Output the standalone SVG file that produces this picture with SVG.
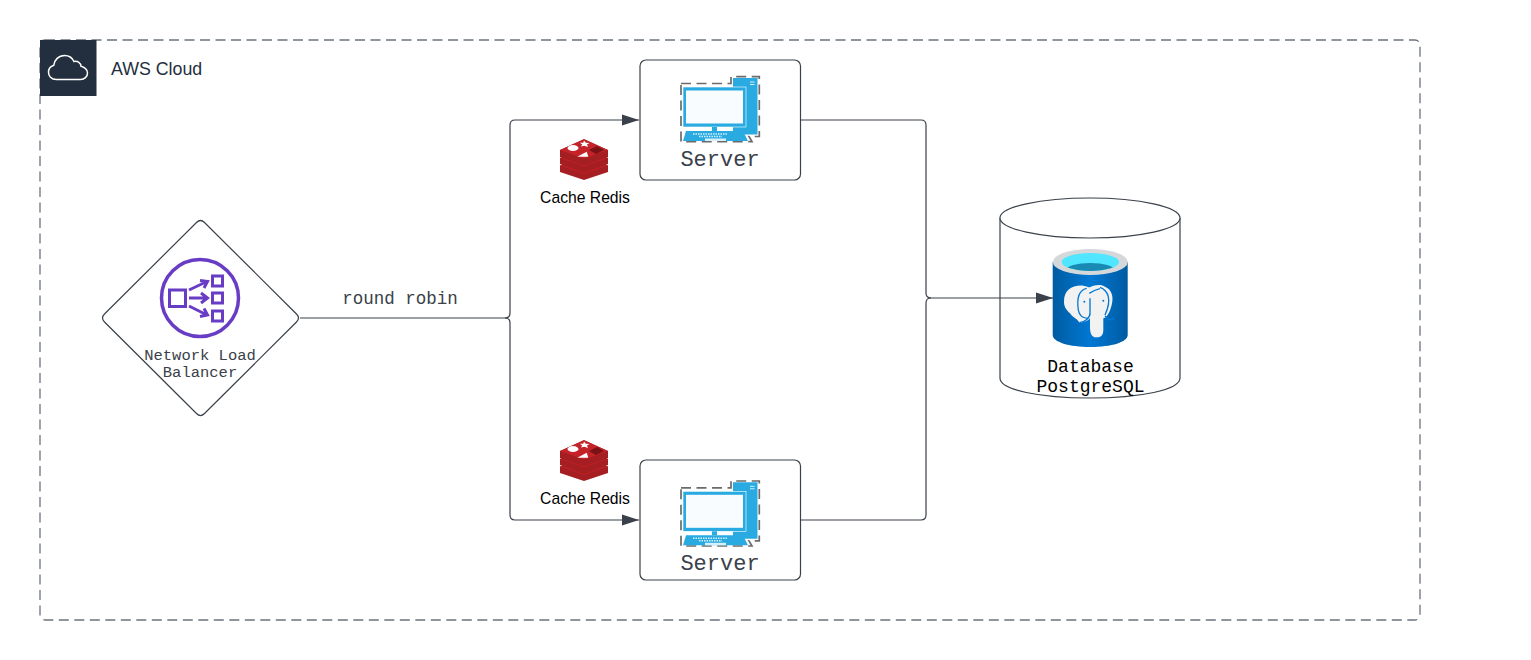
<svg xmlns="http://www.w3.org/2000/svg" width="1531" height="660" viewBox="0 0 1531 660">
<style>
.n{fill:#fff;stroke:#3a414a;stroke-width:1.2}
.c{fill:none;stroke:#3a414a;stroke-width:1.2}
.m{font-family:"Liberation Mono",monospace;text-anchor:middle}
.s{font-family:"Liberation Sans",Arial,sans-serif}
.g{fill:#3a414a}
</style>
<defs>
<marker id="a" markerUnits="userSpaceOnUse" markerWidth="18" markerHeight="12" refX="17" refY="6" orient="auto"><path d="M0 .5 L17 6 L0 11.5Z" fill="#3a414a"/></marker>
<linearGradient id="pg" x1="0" x2="1" y1="0" y2="0"><stop offset="0" stop-color="#005ba1"/><stop offset=".5" stop-color="#0078d4"/><stop offset="1" stop-color="#005ba1"/></linearGradient>
<clipPath id="pgc"><ellipse cx="1090.3" cy="262" rx="28.7" ry="9"/></clipPath>
<g id="pc">
<path d="M681 7.500H731V0.700H759.300V60.500H749L752 65.700H681Z" fill="none" stroke="#6b6b6b" stroke-width="1.700" stroke-dasharray="10 5.500"/>
<path d="M733 2H757.500V58.500H733Z" fill="#29abe2"/>
<rect x="750" y="5.500" width="4.500" height="1" fill="#d6f0fb"/><rect x="750" y="8" width="4.500" height="1" fill="#d6f0fb"/>
<rect x="683" y="11" width="63" height="40" fill="#29abe2" stroke="#fff" stroke-width=".6"/>
<rect x="686" y="14.500" width="57" height="33" fill="#f8fcff"/>
<rect x="712" y="51" width="5" height="4" fill="#29abe2"/>
<path d="M686 55H743L748 65H683Z" fill="#29abe2"/>
<path d="M693 58H728M699 60.500H722" stroke="#d6f0fb" stroke-width="1.400" stroke-dasharray="1.500 1" fill="none"/>
<rect x="705" y="62.500" width="21" height="2.500" fill="#d6f0fb"/>
</g>
<g id="redis">
<path d="M560 165.500 L584 156 L608 165.500 V172 L584 180 L560 172Z" fill="#a41e22"/>
<path d="M560 165.500 L584 174 L608 165.500 L584 157Z" fill="#bf2026"/>
<path d="M560 158 L584 148 L608 158 V164 L584 173 L560 164Z" fill="#a41e22"/>
<path d="M560 158 L584 166.500 L608 158 L584 149Z" fill="#bf2026"/>
<path d="M560 150 L584 139 L608 150 V157 L584 165.500 L560 157Z" fill="#a41e22"/>
<path d="M560 150 L584 158.500 L608 150 L584 139.500Z" fill="#c4232a"/>
<ellipse cx="573" cy="148" rx="5.500" ry="3" fill="#fff"/>
<path d="M584 140.500l1.800 2.200 3.700.3-2.500 1.600 1 2.400-3.700-1.200-3.500.8 1.500-2.200-2.500-1.700 3.500 0Z" fill="#fff"/>
<path d="M577.300 156.700L586.700 151.700L588.300 156.700Z" fill="#fff"/>
<path d="M589 150L597 146L604 150L596 154Z" fill="#7a1216"/>
</g>
</defs>

<g id="aws-cloud">
<rect x="40" y="40" width="1380" height="580" rx="5" fill="#fff" stroke="#6b737c" stroke-width="1.300" stroke-dasharray="10 5.500"/>
<rect x="40" y="40" width="56.500" height="56" fill="#232f3e"/>
<path d="M56.500 79.500C51 79.500 48.500 75.800 48.500 72.300C48.500 69 50.500 66.300 53.800 65.300C54.300 60 58.700 55.500 64.500 55.500C69 55.500 72.500 58.200 74 61.500C77.500 60.500 81 63 81 66.300C84.300 67.300 87.500 69.500 87.500 73C87.500 76.800 84.500 79.500 80.500 79.500Z" fill="none" stroke="#fff" stroke-width="1.500"/>
<text x="111" y="74.500" class="s" font-size="17.800" fill="#232f3e">AWS Cloud</text>
</g>

<g id="load-balancer">
<path class="n" d="M196.500 222.500Q200.500 218.500 204.500 222.500L296.500 314Q300.500 318 296.500 322L204.500 413.500Q200.500 417.500 196.500 413.500L104.500 322Q100.500 318 104.500 314Z"/>
<g fill="none" stroke="#693cc5" stroke-width="3">
<circle cx="200" cy="298" r="38.500" stroke-width="3.500"/>
<rect x="169.500" y="290" width="16" height="16.500"/>
<rect x="212.500" y="276" width="10" height="10"/>
<rect x="212.500" y="293" width="10" height="10"/>
<rect x="212.500" y="311" width="10" height="10"/>
<path d="M189 290L207 281.500M200 280.500L207.500 281.500L204 288M189 298H207M201 293L207.500 298L201 303M189 306L207 315M204 308.500L207.500 315L200 316.500"/>
</g>
<text class="m g" font-size="15.500"><tspan x="200" y="360">Network Load</tspan><tspan x="200" y="377">Balancer</tspan></text>
</g>

<g id="server-top">
<rect class="n" x="640" y="60" width="160.500" height="120" rx="6"/>
<use href="#pc" y="76"/>
<text x="720" y="166" class="m g" font-size="22">Server</text>
</g>

<g id="server-bottom">
<rect class="n" x="640" y="460" width="160.500" height="120" rx="6"/>
<use href="#pc" y="480.300"/>
<text x="720" y="570" class="m g" font-size="22">Server</text>
</g>

<g id="redis-top">
<use href="#redis"/>
<text x="585" y="202.500" class="s" font-size="15.700" text-anchor="middle">Cache Redis</text>
</g>

<g id="redis-bottom">
<use href="#redis" y="301"/>
<text x="585" y="503.500" class="s" font-size="15.700" text-anchor="middle">Cache Redis</text>
</g>

<g id="database">
<path class="n" d="M1000 218V378C1000 390 1040 398 1090 398S1180 390 1180 378V218"/>
<ellipse class="n" cx="1090" cy="218" rx="90" ry="20"/>
<path d="M1052.700 262V335C1052.700 342 1069 347 1090.300 347S1127.700 342 1127.700 335V262Z" fill="url(#pg)"/>
<ellipse cx="1090.300" cy="262" rx="37.500" ry="13" fill="#d5d8da"/>
<ellipse cx="1090.300" cy="262" rx="28.700" ry="9" fill="#50e6ff"/>
<ellipse cx="1090.300" cy="270" rx="24" ry="7" fill="#198ab3" clip-path="url(#pgc)"/>
<g transform="translate(990 190) scale(.3333)">
<path d="M222 335C222 300 245 285 280 287C290 288 295 292 300 292C315 284 335 283 345 290C365 298 372 320 365 345C360 365 350 385 340 385L340 420C340 438 330 443 318 442C305 441 300 430 300 410L300 385C295 392 280 398 268 398C262 385 250 385 240 370C228 358 222 350 222 335Z" fill="#f2f2f2"/>
<path d="M290 295C268 300 260 325 265 360C268 378 280 385 295 385M330 292C352 300 368 325 345 375M268 398C285 395 300 385 300 370M345 378C355 392 365 392 372 385M300 325V375M298 310C310 302 322 298 330 296" fill="none" stroke="#0078d4" stroke-width="4"/>
<circle cx="283" cy="335" r="3" fill="#0078d4"/><circle cx="340" cy="332" r="3" fill="#0078d4"/>
</g>
<text class="m" font-size="18" fill="#000"><tspan x="1090.500" y="372">Database</tspan><tspan x="1090.500" y="391.500">PostgreSQL</tspan></text>
</g>

<g id="connectors">
<path class="c" d="M300 318H505Q510 318 510 313V125Q510 120 515 120H639" marker-end="url(#a)"/>
<path class="c" d="M505 318Q510 318 510 323V515Q510 520 515 520H639" marker-end="url(#a)"/>
<path class="c" d="M800.500 120H921Q926 120 926 125V293Q926 298 931 298H1053" marker-end="url(#a)"/>
<path class="c" d="M800.500 520H921Q926 520 926 515V303Q926 298 931 298"/>
<text x="400" y="304" class="m g" font-size="17.500">round robin</text>
</g>
</svg>
